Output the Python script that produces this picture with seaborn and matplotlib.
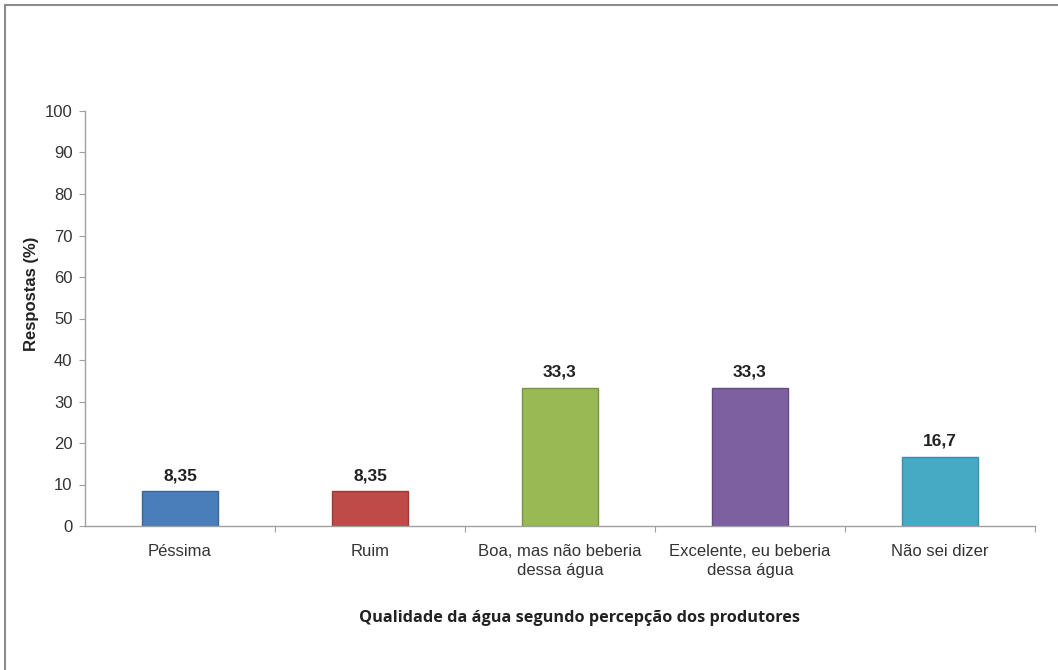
import matplotlib
matplotlib.use("Agg")
import matplotlib.pyplot as plt
import seaborn as sns
import pandas as pd
from matplotlib.patches import Rectangle
from matplotlib.ticker import FixedLocator

categories = ["Péssima", "Ruim", "Boa, mas não beberia\ndessa água",
              "Excelente, eu beberia\ndessa água", "Não sei dizer"]
values = [8.35, 8.35, 33.3, 33.3, 16.7]
labels = ["8,35", "8,35", "33,3", "33,3", "16,7"]
colors = ["#4A7EBB", "#BE4B48", "#98B954", "#7D60A0", "#46AAC5"]
edges = ["#3A6796", "#9B3B38", "#7A9442", "#634C80", "#3790A8"]
yticks = [0, 10, 20, 30, 40, 50, 60, 70, 80, 90, 100]

sns.set_theme(style="white")
plt.rcParams['font.family'] = ['Liberation Sans', 'DejaVu Sans']

df = pd.DataFrame({"cat": categories, "val": values})

fig = plt.figure(figsize=(10.58, 6.70), dpi=100)
ax = fig.add_axes([85/1058, 1-526/670, 950/1058, 415/670])

sns.barplot(data=df, x="cat", y="val", hue="cat", palette=colors,
            width=0.4, ax=ax, legend=False, saturation=1)
for p, ec in zip(ax.patches, edges):
    p.set_edgecolor(ec)
    p.set_linewidth(1.0)

ax.set_xlim(-0.5, 4.5)
ax.set_ylim(0, 100)
ax.set_yticks(yticks)
ax.set_yticklabels([str(t) for t in yticks], fontsize=12, color="#333333")
ax.tick_params(axis="y", which="major", length=4, width=0.8, color="#A0A0A0",
               direction="out", left=True, pad=5)
ax.set_xticks(range(len(categories)))
ax.set_xticklabels(categories, fontsize=12, color="#333333", linespacing=1.3)
ax.tick_params(axis="x", which="major", length=0, pad=13)
ax.xaxis.set_minor_locator(FixedLocator([0.5, 1.5, 2.5, 3.5, 4.5]))
ax.tick_params(axis="x", which="minor", length=4, width=0.8, color="#A0A0A0",
               direction="out", bottom=True)

for s in ["top", "right"]:
    ax.spines[s].set_visible(False)
for s in ["left", "bottom"]:
    ax.spines[s].set_color("#A0A0A0")
    ax.spines[s].set_linewidth(1.0)

for i, (v, lab) in enumerate(zip(values, labels)):
    ax.annotate(lab, (i, v), xytext=(0, 6), textcoords="offset points",
                ha="center", va="bottom", fontsize=12.5, fontweight="bold",
                color="#222222")

ax.set_ylabel("Respostas (%)", fontsize=12, fontweight="bold", color="#222222")
ax.yaxis.set_label_coords(-0.0568, 0.559)
ax.yaxis.label.set_va("center")
ax.set_xlabel("Qualidade da água segundo percepção dos produtores",
              fontsize=11.7, fontweight="bold", color="#222222",
              family=["Open Sans", "DejaVu Sans"])
ax.xaxis.set_label_coords(0.521, -0.222)
ax.xaxis.label.set_va("center")

fig.patches.append(Rectangle((5/1058, -0.01), 1.05, 1 - 5/670 + 0.01,
                             transform=fig.transFigure, fill=False,
                             edgecolor="#8C8C8C", linewidth=1.5))

fig.savefig("out.png", dpi=100)
